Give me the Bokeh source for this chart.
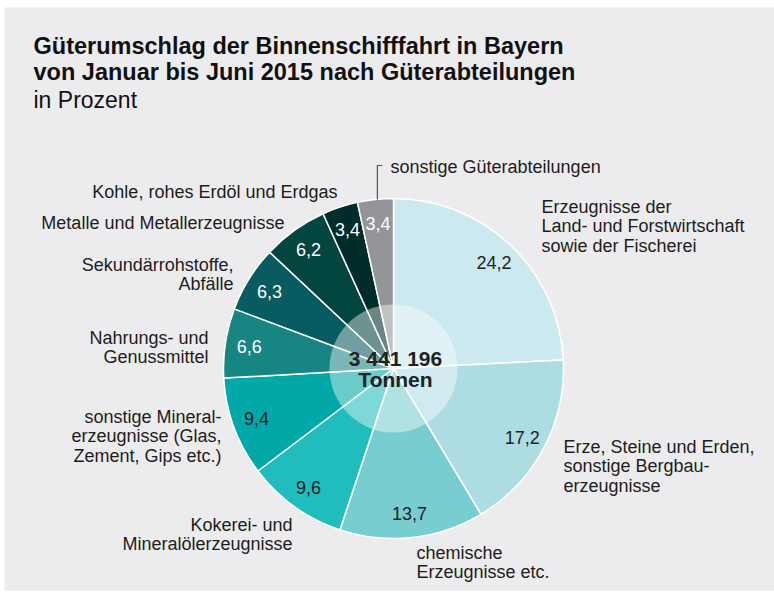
import math
from bokeh.plotting import figure
from bokeh.models import Range1d, ColumnDataSource
from bokeh.core.properties import value
from bokeh.embed import file_html
from bokeh.resources import INLINE

# ---------------- data ----------------
categories = [
    "Erzeugnisse der\nLand- und Forstwirtschaft\nsowie der Fischerei",
    "Erze, Steine und Erden,\nsonstige Bergbau-\nerzeugnisse",
    "chemische\nErzeugnisse etc.",
    "Kokerei- und\nMineralölerzeugnisse",
    "sonstige Mineral-\nerzeugnisse (Glas,\nZement, Gips etc.)",
    "Nahrungs- und\nGenussmittel",
    "Sekundärrohstoffe,\nAbfälle",
    "Metalle und Metallerzeugnisse",
    "Kohle, rohes Erdöl und Erdgas",
    "sonstige Güterabteilungen",
]
shares = [24.2, 17.2, 13.7, 9.6, 9.4, 6.6, 6.3, 6.2, 3.4, 3.4]
total_tonnes = "3 441 196"
total_unit = "Tonnen"
title_lines = ["Güterumschlag der Binnenschifffahrt in Bayern",
               "von Januar bis Juni 2015 nach Güterabteilungen"]
subtitle = "in Prozent"

# ---------------- styles ----------------
slice_colors = ["#cce9ef", "#aedce3", "#78cdd0", "#21bcbc", "#00a8a8",
                "#178581", "#075b61", "#02463f", "#002d2a", "#939598"]
value_colors = ["#222222"] * 5 + ["#ffffff"] * 5
BG = "#ececee"
TXT = "#1d1d1b"
FONT = value("Liberation Sans")

# layout of outer labels: (anchor x, first baseline y, align) in page pixels
DY = -6
label_layout = [
    (541, 212, "left"),
    (563, 452, "left"),
    (416, 558, "left"),
    (292, 530, "right"),
    (221, 422, "right"),
    (208, 343, "right"),
    (233, 270, "right"),
    (284, 228, "right"),
    (337, 197, "right"),
    (390, 172, "left"),
]
LINE_H = 19.8

W, H = 774, 593


def sy(y):
    return H - y


p = figure(width=W, height=H, x_range=Range1d(0, W), y_range=Range1d(0, H),
           output_backend="svg", toolbar_location=None,
           x_axis_location=None, y_axis_location=None, min_border=0,
           background_fill_color="white", border_fill_color="white",
           outline_line_color=None)
p.grid.visible = False

# grey panel
p.quad(left=4, right=W, top=sy(7), bottom=sy(590), fill_color=BG, line_color=None)

# ---------------- pie ----------------
cx, cy, R = 393, sy(368), 170
R_INNER = 64
R_LABEL = 146
total = sum(shares)
starts, ends, mids = [], [], []
cum = 0.0
for s in shares:
    a0 = math.pi / 2 - 2 * math.pi * cum / total
    cum += s
    a1 = math.pi / 2 - 2 * math.pi * cum / total
    starts.append(a0)
    ends.append(a1)
    mids.append((a0 + a1) / 2)

pie_src = ColumnDataSource(dict(
    start=starts, end=ends, color=slice_colors,
    lx=[cx + R_LABEL * math.cos(m) for m in mids],
    ly=[cy + R_LABEL * math.sin(m) for m in mids],
    txt=[f"{s:.1f}".replace(".", ",") for s in shares],
    tcol=value_colors,
))
p.wedge(x=cx, y=cy, radius=R, start_angle="start", end_angle="end",
        direction="clock", fill_color="color", line_color="white",
        line_width=1.5, source=pie_src)
p.circle(x=cx, y=cy, radius=R_INNER, fill_color="white", fill_alpha=0.42,
         line_color=None)
p.text(x="lx", y="ly", text="txt", text_color="tcol", source=pie_src,
       text_font=FONT, text_font_size="18px", text_align="center",
       text_baseline="middle")

# centre total
p.text(x=[cx + 2, cx + 2], y=[sy(364 + DY), sy(385 + DY)],
       text=[total_tonnes, total_unit],
       text_font=FONT, text_font_size="21px", text_font_style="bold",
       text_color="#222222", text_align="center", text_baseline="alphabetic")

# ---------------- outer labels ----------------
for name, (ax, ay, align) in zip(categories, label_layout):
    lines = name.split("\n")
    p.text(x=[ax] * len(lines),
           y=[sy(ay + DY + i * LINE_H) for i in range(len(lines))],
           text=lines, text_font=FONT, text_font_size="18px", text_color=TXT,
           text_align=align, text_baseline="alphabetic")

# leader line for the last slice
m = mids[-1]
lx0 = cx + R * math.cos(m) + 2
ly0 = cy + R * math.sin(m)
p.line(x=[lx0, lx0, lx0 + 5], y=[ly0, sy(165), sy(165)], line_color="#555555",
       line_width=1.2)

# ---------------- title ----------------
p.text(x=[33, 33], y=[sy(51 + DY), sy(77.5 + DY)], text=title_lines,
       text_font=FONT, text_font_size="23.5px", text_font_style="bold",
       text_color="#111111", text_align="left", text_baseline="alphabetic")
p.text(x=[33], y=[sy(105 + DY)], text=[subtitle], text_font=FONT,
       text_font_size="23px", text_color="#111111", text_align="left",
       text_baseline="alphabetic")

open("out.html", "w").write(file_html(p, INLINE))
